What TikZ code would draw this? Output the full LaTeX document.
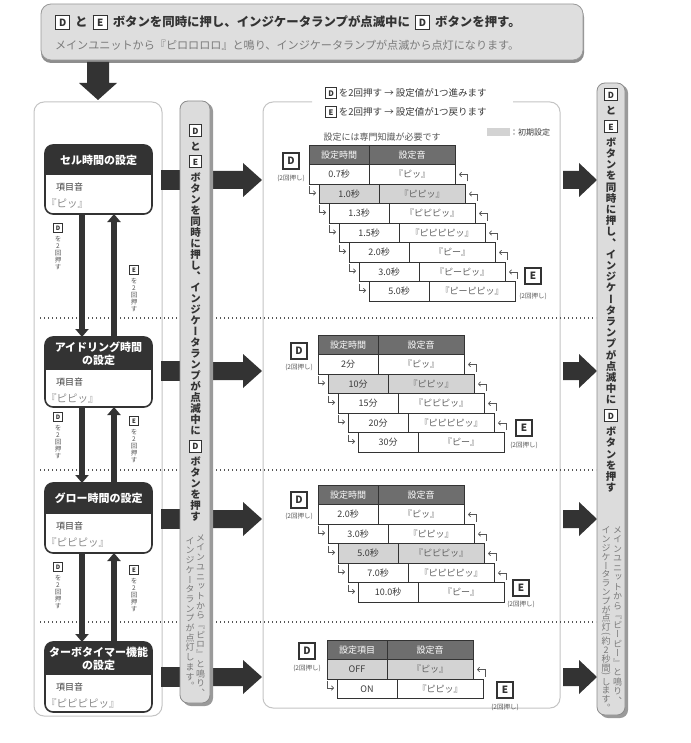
\documentclass[tikz,border=0pt]{standalone}
\usepackage{fontspec}
\usepackage{graphicx}
\setmainfont{Noto Sans CJK JP}
\newfontfamily\jpv{Noto Sans CJK JP}[RawFeature=+vert]
\usetikzlibrary{arrows.meta,calc}
\definecolor{dk}{HTML}{333333}
\definecolor{hdr}{HTML}{6E6E6E}
\definecolor{rowg}{HTML}{D3D3D3}
\definecolor{barf}{HTML}{DCDCDC}
\definecolor{bard}{HTML}{8C8C8C}
\definecolor{barsh}{HTML}{9A9A9A}
\definecolor{bnf}{HTML}{DEDEDE}
\definecolor{bnd}{HTML}{999999}
\definecolor{bnsh}{HTML}{8E8E8E}
\definecolor{txg}{HTML}{7A7A7A}
\definecolor{txm}{HTML}{555555}
\definecolor{tx}{HTML}{3A3A3A}
\definecolor{tx2}{HTML}{5E5E5E}
\definecolor{pline}{HTML}{C4C4C4}
\definecolor{hkc}{HTML}{555555}
\definecolor{dotc}{HTML}{555555}
\definecolor{snd}{HTML}{8A8A8A}

\newcommand\kb[1]{{\setlength\fboxsep{0pt}\setlength\fboxrule{0.8pt}\fcolorbox{dk}{white}{\makebox[1.1em]{\rule[-0.16em]{0pt}{1.08em}\scalebox{0.8}{\bfseries\color{dk}#1}}}}}
\def\KD{\kb{D}}\def\KE{\kb{E}}
\newdimen\vp
\def\VG{VG}\def\PL{PL}\def\PR{PR}\def\TW{TW}
\def\vt#1#2{\vbox{\offinterlineskip\vp=#1\relax\vtA#2\relax}}
\def\vtA#1{\ifx\relax#1\else\vcell{#1}\expandafter\vtA\fi}
\def\vhalf#1{\vbox to0.6\vp{\vss\hbox to1em{\hss#1\hss}\vss}}
\def\vcell#1{%
 \ifx\VG#1\vskip0.42\vp
 \else\ifx\PL#1\vhalf{\rotatebox[origin=c]{-90}{(}}%
 \else\ifx\PR#1\vhalf{\rotatebox[origin=c]{-90}{)}}%
 \else\ifx\TW#1\vbox to\vp{\vss\hbox to1em{\hss 2\hss}\vss}%
 \else\vbox to\vp{\vss\hbox to1em{\hss\smash{#1}\hss}\vskip\dimexpr0.5\vp-0.38em\relax}%
 \fi\fi\fi\fi}
\newcommand\tabfont{\fontsize{9}{10}\selectfont}

\tikzset{
 tkey/.style={draw=dk, line width=1.1pt, fill=white, minimum width=16pt, minimum height=16pt, font=\fontsize{10}{10}\selectfont\bfseries, text=dk},
 note/.style={font=\fontsize{6.5}{7}\selectfont, text=txm},
 hook/.style={draw=hkc, line width=0.7pt, -{Straight Barb[length=2.2pt,width=4.5pt]}},
 varrow/.style={draw=dk, line width=5.5pt, -{Triangle[width=13pt,length=8pt]}},
 dotline/.style={draw=dotc, line width=1.3pt, dash pattern=on 1.3pt off 2.7pt},
}

\newcommand\thead[5]{%
 \node[draw=dk, line width=0.8pt, fill=hdr, minimum width=146pt, minimum height=19.5pt, anchor=north west] (#1) at (#2,#3) {};
 \draw[dk, line width=0.8pt] ([xshift=60pt]#1.north west) -- ([xshift=60pt]#1.south west);
 \node[font=\tabfont, text=white] (#1a) at ([xshift=30pt]#1.west) {#4};
 \node[font=\tabfont, text=white] (#1b) at ([xshift=103pt]#1.west) {#5};}
\newcommand\trow[6]{%
 \node[draw=dk, line width=0.8pt, fill=#4, minimum width=146pt, minimum height=19.5pt, anchor=north west] (#1) at (#2,#3) {};
 \draw[dk, line width=0.8pt] ([xshift=60pt]#1.north west) -- ([xshift=60pt]#1.south west);
 \node[font=\tabfont, text=tx] (#1a) at ([xshift=30pt]#1.west) {#5};
 \node[font=\tabfont, text=tx2] (#1b) at ([xshift=103pt]#1.west) {#6};}
\newcommand\hl[1]{\draw[hook] ([shift={(-10,2)}]#1.north west) -- ++(0,7) -- ++(7,0);}
\newcommand\hr[1]{\draw[hook] ([shift={(12,17)}]#1.north east) -- ++(0,-7) -- ++(-8,0);}
\newcommand\lbox[6]{%
 \node[minimum width=107pt, minimum height={#4-#2}, anchor=north] (#1) at (98.5,#2) {};
 \begin{scope}
 \clip[rounded corners=8pt] (45,#2) rectangle (152,#4);
 \fill[white] (45,#2) rectangle (152,#4);
 \fill[dk] (45,#2) rectangle (152,#3);
 \end{scope}
 \draw[dk, line width=1.6pt, rounded corners=8pt] (45,#2) rectangle (152,#4);
 \node[font=\fontsize{11}{13}\selectfont\bfseries, text=white, align=center] (#1t) at (98.5,{(#2+#3)/2}) {#5};
 \node[anchor=west, font=\fontsize{9}{10}\selectfont, text=tx] (#1k) at (56,{#3+12.5}) {項目音};
 \node[anchor=west, font=\fontsize{10.5}{12}\selectfont, text=snd] (#1s) at (46,{#3+28.5}) {#6};}
\newcommand\vlab[4]{%
 \node[font=\fontsize{7.5}{8}\selectfont] (#1) at (#2,#3) {\kb{#4}};
 \node[anchor=north, font=\jpv\fontsize{6.5}{7}\selectfont, text=txm] (#1t) at ([yshift=-3pt]#1.south) {\vt{7pt}{を2回押す}};}

\begin{document}
\begin{tikzpicture}[x=1pt,y=-1pt,every node/.style={inner sep=0pt,outer sep=0pt}]
\useasboundingbox (0,0) rectangle (690,743);
\fill[white] (0,0) rectangle (690,743);

% banner
\fill[bnsh, rounded corners=10pt] (41,7) rectangle (584,63);
\filldraw[fill=bnf, draw=bnd, line width=0.8pt, rounded corners=10pt] (41,4) rectangle (583,60);
\node[anchor=west, font=\fontsize{12.4}{13}\selectfont\bfseries, text=dk] (ban1) at (55,22) {\kb{D}\hspace{0.4em}と\hspace{0.4em}\kb{E}\hspace{0.4em}ボタンを同時に押し、インジケータランプが点滅中に\hspace{0.4em}\kb{D}\hspace{0.4em}ボタンを押す。};
\node[anchor=west, font=\fontsize{11.1}{12}\selectfont, text=txg] (ban2) at (55,45) {メインユニットから『ピロロロロ』と鳴り、インジケータランプが点滅から点灯になります。};

% down arrow
\fill[dk] (87,62) -- (109,62) -- (109,83) -- (117,83) -- (98,100) -- (79,83) -- (87,83) -- cycle;

% panels
\draw[pline, line width=1pt, rounded corners=10pt] (34,102) rectangle (162,716);
\draw[pline, line width=1pt, rounded corners=10pt] (312,102) -- (263,102) -- (263,708) -- (560,708) -- (560,102) -- (513,102);

% dotted separators
\foreach \y in {318,470,622} \draw[dotline] (40,\y) -- (596,\y);

% big arrows
\foreach \c in {180,371,519,677}{
 \fill[dk] (161,{\c-10}) rectangle (182,{\c+10});
 \fill[dk] (212,{\c-9}) -- (243,{\c-9}) -- (243,{\c-17}) -- (262,\c) -- (243,{\c+17}) -- (243,{\c+9}) -- (212,{\c+9}) -- cycle;
 \fill[dk] (563,{\c-9}) -- (579,{\c-9}) -- (579,{\c-17}) -- (597,\c) -- (579,{\c+17}) -- (579,{\c+9}) -- (563,{\c+9}) -- cycle;
}

% bars
\fill[barsh, rounded corners=8pt] (183,103) rectangle (213,706);
\filldraw[fill=barf, draw=bard, line width=0.8pt, rounded corners=8pt] (180,101) rectangle (210,703);
\fill[barsh, rounded corners=8pt] (600,85) rectangle (628,718);
\filldraw[fill=barf, draw=bard, line width=0.8pt, rounded corners=8pt] (597,83) rectangle (625,715);

% bar texts
\node[anchor=north, font=\jpv\fontsize{10.5}{12}\bfseries, text=dk] (v1) at (195.5,125) {\vt{11pt}{\KD\VG と\VG\KE\VG ボタンを同時に押し、インジケータランプが点滅中に\VG\KD\VG ボタンを押す}};
\node[anchor=north, font=\jpv\fontsize{9}{10}\selectfont, text=txg] (v1r) at (200.5,533) {\vt{9.7pt}{メインユニットから『ピロ』と鳴り、}};
\node[anchor=north, font=\jpv\fontsize{9}{10}\selectfont, text=txg] (v1l) at (190,536) {\vt{9.7pt}{インジケータランプが点灯します。}};
\node[anchor=north, font=\jpv\fontsize{10.5}{12}\bfseries, text=dk] (v2) at (611,89) {\vt{11.2pt}{\KD\VG と\VG\KE\VG ボタンを同時に押し、インジケータランプが点滅中に\VG\KD\VG ボタンを押す}};
\node[anchor=north, font=\jpv\fontsize{9}{10}\selectfont, text=txg] (v2r) at (617.5,525) {\vt{9.5pt}{メインユニットから『ピーピー』と鳴り、}};
\node[anchor=north, font=\jpv\fontsize{9}{10}\selectfont, text=txg] (v2l) at (606,526) {\vt{8.8pt}{インジケータランプが点灯\PL 約\TW 秒間\PR します。}};

% left boxes
\lbox{b1}{145}{175}{214}{セル時間の設定}{『ピッ』}
\lbox{b2}{337}{370}{407}{アイドリング時間\\の設定}{『ピピッ』}
\lbox{b3}{483}{514}{553}{グロー時間の設定}{『ピピピッ』}
\lbox{b4}{642}{675}{712}{ターボタイマー機能\\の設定}{『ピピピピッ』}

\draw[varrow] ([xshift=-16.5pt]b1.south) -- ([xshift=-16.5pt]b2.north);
\draw[varrow] ([xshift=15.5pt]b2.north) -- ([xshift=15.5pt]b1.south);
\draw[varrow] ([xshift=-16.5pt]b2.south) -- ([xshift=-16.5pt]b3.north);
\draw[varrow] ([xshift=15.5pt]b3.north) -- ([xshift=15.5pt]b2.south);
\draw[varrow] ([xshift=-16.5pt]b3.south) -- ([xshift=-16.5pt]b4.north);
\draw[varrow] ([xshift=15.5pt]b4.north) -- ([xshift=15.5pt]b3.south);

\vlab{l1d}{58}{228}{D}
\vlab{l1e}{134}{270}{E}
\vlab{l2d}{58}{417}{D}
\vlab{l2e}{134}{421}{E}
\vlab{l3d}{58}{567}{D}
\vlab{l3e}{134}{570}{E}

% middle header
\node[anchor=west, font=\fontsize{9.5}{11}\selectfont, text=tx] (hd) at (325,93) {\kb{D}\hspace{0.2em}を2回押す → 設定値が1つ進みます};
\node[anchor=west, font=\fontsize{9.5}{11}\selectfont, text=tx] (he) at (325,112) {\kb{E}\hspace{0.2em}を2回押す → 設定値が1つ戻ります};
\node[fill=rowg, minimum width=23pt, minimum height=8pt] (lg) at (498.5,132) {};
\node[anchor=west, font=\fontsize{8}{9}\selectfont, text=tx] (lgt) at (510,132) {：初期設定};
\node[font=\fontsize{9}{10}\selectfont, text=txm] (warn) at (382,137) {設定には専門知識が必要です};

% table 1
\thead{t1h}{309}{145}{設定時間}{設定音}
\trow{t1r1}{309}{164.5}{white}{0.7秒}{『ピッ』}
\trow{t1r2}{319}{184}{rowg}{1.0秒}{『ピピッ』}
\trow{t1r3}{329}{203.5}{white}{1.3秒}{『ピピピッ』}
\trow{t1r4}{339}{223}{white}{1.5秒}{『ピピピピッ』}
\trow{t1r5}{349}{242.5}{white}{2.0秒}{『ピー』}
\trow{t1r6}{359}{262}{white}{3.0秒}{『ピーピッ』}
\trow{t1r7}{369}{281.5}{white}{5.0秒}{『ピーピピッ』}
\foreach \r in {2,...,7}{\hl{t1r\r}}
\foreach \r in {1,...,6}{\hr{t1r\r}}
\node[tkey] (k1d) at (291,161) {D};
\node[note] (k1dn) at (291,178) {(2回押し)};
\node[tkey] (k1e) at (533,276) {E};
\node[note] (k1en) at (533,296) {(2回押し)};

% table 2
\thead{t2h}{318}{335}{設定時間}{設定音}
\trow{t2r1}{318}{354.5}{white}{2分}{『ピッ』}
\trow{t2r2}{328}{374}{rowg}{10分}{『ピピッ』}
\trow{t2r3}{338}{393.5}{white}{15分}{『ピピピッ』}
\trow{t2r4}{348}{413}{white}{20分}{『ピピピピッ』}
\trow{t2r5}{358}{432.5}{white}{30分}{『ピー』}
\foreach \r in {2,...,5}{\hl{t2r\r}}
\foreach \r in {1,...,4}{\hr{t2r\r}}
\node[tkey] (k2d) at (299,351) {D};
\node[note] (k2dn) at (299,367) {(2回押し)};
\node[tkey] (k2e) at (524,428) {E};
\node[note] (k2en) at (524,445) {(2回押し)};

% table 3
\thead{t3h}{318}{485}{設定時間}{設定音}
\trow{t3r1}{318}{504.5}{white}{2.0秒}{『ピッ』}
\trow{t3r2}{328}{524}{white}{3.0秒}{『ピピッ』}
\trow{t3r3}{338}{543.5}{rowg}{5.0秒}{『ピピピッ』}
\trow{t3r4}{348}{563}{white}{7.0秒}{『ピピピピッ』}
\trow{t3r5}{358}{582.5}{white}{10.0秒}{『ピー』}
\foreach \r in {2,...,5}{\hl{t3r\r}}
\foreach \r in {1,...,4}{\hr{t3r\r}}
\node[tkey] (k3d) at (299,500) {D};
\node[note] (k3dn) at (299,516) {(2回押し)};
\node[tkey] (k3e) at (521,588) {E};
\node[note] (k3en) at (521,604) {(2回押し)};

% table 4
\thead{t4h}{327}{640}{設定項目}{設定音}
\trow{t4r1}{327}{659.5}{rowg}{OFF}{『ピッ』}
\trow{t4r2}{337}{679}{white}{ON}{『ピピッ』}
\hl{t4r2}
\hr{t4r1}
\node[tkey] (k4d) at (307,651) {D};
\node[note] (k4dn) at (307,668) {(2回押し)};
\node[tkey] (k4e) at (505,690) {E};
\node[note] (k4en) at (505,707) {(2回押し)};
\end{tikzpicture}
\end{document}
